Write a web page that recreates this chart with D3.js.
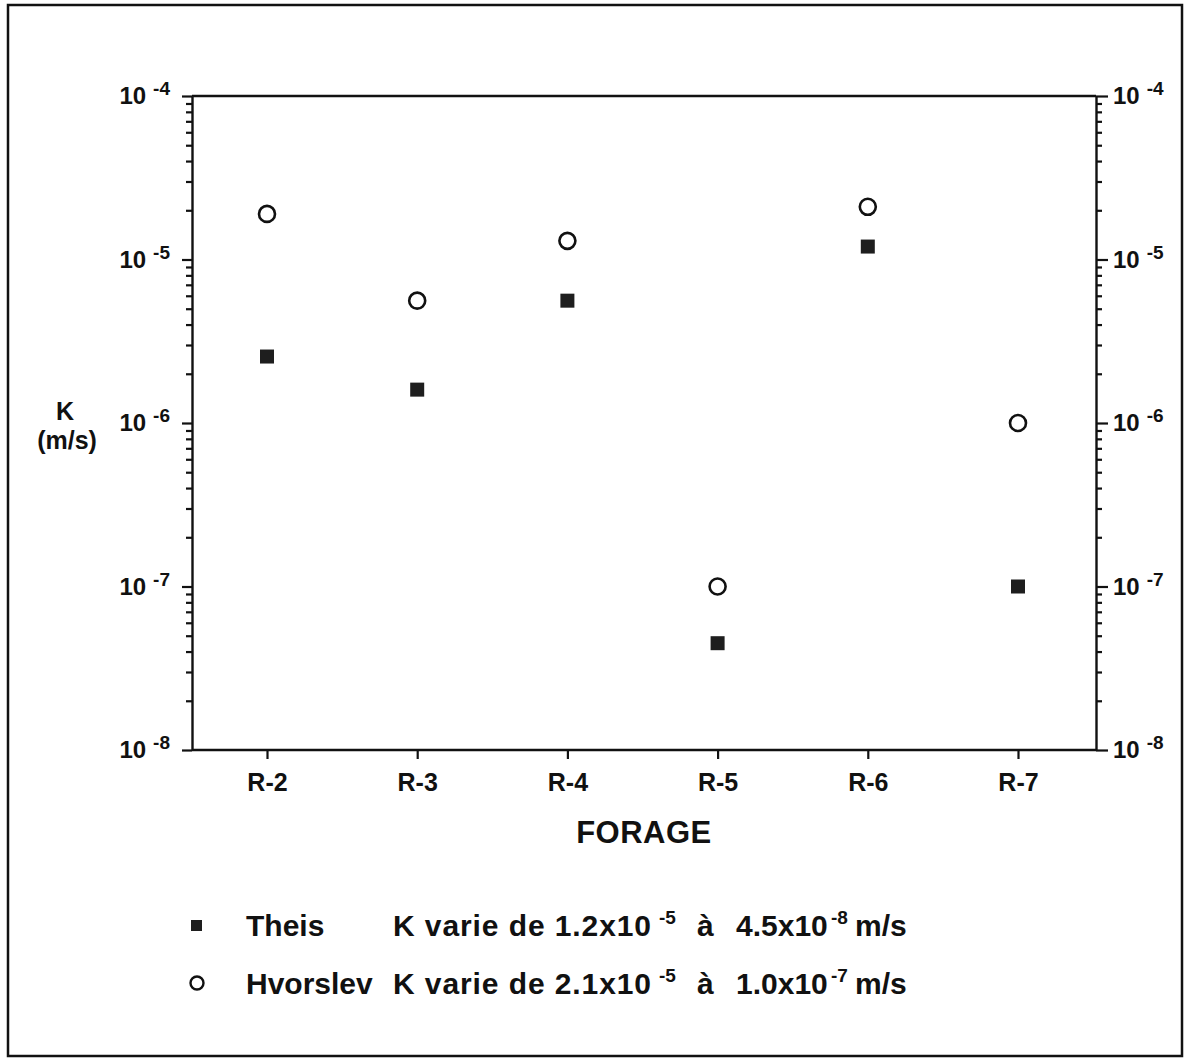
<!DOCTYPE html>
<html>
<head>
<meta charset="utf-8">
<script src="https://cdn.jsdelivr.net/npm/d3@7"></script>
<style>
  html, body { margin: 0; padding: 0; background: #fff; }
  svg text { font-family: "Liberation Sans", Arial, Helvetica, sans-serif; font-weight: bold; fill: #111; }
</style>
</head>
<body>
<svg id="chart" width="1191" height="1058"></svg>
<script>
// Boreholes and hydraulic conductivity K (m/s)
const categories = ["R-2", "R-3", "R-4", "R-5", "R-6", "R-7"];
const theis = [2.55e-6, 1.6e-6, 5.6e-6, 4.5e-8, 1.2e-5, 1.0e-7];
const hvorslev = [1.9e-5, 5.6e-6, 1.3e-5, 1.0e-7, 2.1e-5, 1.0e-6];
const decadeExponents = [-8, -7, -6, -5, -4];
const legendRows = [
  { name: "Theis", from: ["1.2x10", "-5"], to: ["4.5x10", "-8"] },
  { name: "Hvorslev", from: ["2.1x10", "-5"], to: ["1.0x10", "-7"] }
];

const svg = d3.select("#chart");
const plotLeft = 192, plotRight = 1096, plotTop = 96, plotBottom = 750;

// outer frame
svg.append("rect")
  .attr("x", 8).attr("y", 5).attr("width", 1174).attr("height", 1051)
  .attr("fill", "none").attr("stroke", "#111").attr("stroke-width", 2.5);

const y = d3.scaleLog().domain([1e-8, 1e-4]).range([plotBottom, plotTop]);
const x = d3.scalePoint().domain(categories).range([267, 1018]);

const majors = decadeExponents.map(e => Math.pow(10, e));
const minors = [];
for (let e = -8; e < -4; e++) for (let m = 2; m <= 9; m++) minors.push(m * Math.pow(10, e));

const axisStyle = g => {
  g.selectAll("path").attr("stroke", "#111").attr("stroke-width", 2.4);
  g.selectAll("line").attr("stroke", "#111").attr("stroke-width", 2.2);
};

function powerLabel(sel, anchor) {
  sel.each(function(d) {
    const t = d3.select(this);
    const e = Math.round(Math.log10(d));
    t.text(null).attr("text-anchor", anchor).attr("font-size", 24);
    t.append("tspan").text("10");
    t.append("tspan").attr("dx", 7).attr("dy", -9).attr("font-size", 19).text(String(e));
  });
}

// left axis: minor then major ticks
svg.append("g").attr("transform", `translate(${plotLeft},0)`)
  .call(d3.axisLeft(y).tickValues(minors).tickSize(6).tickSizeOuter(0).tickFormat(""))
  .call(axisStyle);
const gL = svg.append("g").attr("transform", `translate(${plotLeft},0)`)
  .call(d3.axisLeft(y).tickValues(majors).tickSize(10).tickSizeOuter(0).tickPadding(12))
  .call(axisStyle);
gL.select(".domain").remove();
gL.selectAll(".tick text").call(powerLabel, "end");

// right axis
svg.append("g").attr("transform", `translate(${plotRight},0)`)
  .call(d3.axisRight(y).tickValues(minors).tickSize(6).tickSizeOuter(0).tickFormat(""))
  .call(axisStyle);
const gR = svg.append("g").attr("transform", `translate(${plotRight},0)`)
  .call(d3.axisRight(y).tickValues(majors).tickSize(12).tickSizeOuter(0).tickPadding(5))
  .call(axisStyle);
gR.select(".domain").remove();
gR.selectAll(".tick text").call(powerLabel, "start");

// top and bottom frame lines of the plot
svg.append("line").attr("x1", plotLeft).attr("x2", plotRight).attr("y1", plotTop).attr("y2", plotTop)
  .attr("stroke", "#111").attr("stroke-width", 2.4);

const gB = svg.append("g").attr("transform", `translate(0,${plotBottom})`)
  .call(d3.axisBottom(x).tickSize(9).tickSizeOuter(0).tickPadding(14))
  .call(axisStyle);
gB.select(".domain").remove();
svg.append("line").attr("x1", plotLeft).attr("x2", plotRight).attr("y1", plotBottom).attr("y2", plotBottom)
  .attr("stroke", "#111").attr("stroke-width", 2.4);
gB.selectAll(".tick text").attr("font-size", 25).attr("dy", "0.71em");

// axis titles
svg.append("text").attr("x", (plotLeft + plotRight) / 2).attr("y", 843)
  .attr("text-anchor", "middle").attr("font-size", 31).attr("letter-spacing", 0.5).text("FORAGE");
svg.append("text").attr("x", 65).attr("y", 420)
  .attr("text-anchor", "middle").attr("font-size", 25).text("K");
svg.append("text").attr("x", 67).attr("y", 449)
  .attr("text-anchor", "middle").attr("font-size", 25).text("(m/s)");

// Theis points (filled squares)
const sq = 14;
svg.append("g").selectAll("rect").data(theis).join("rect")
  .attr("x", (d, i) => x(categories[i]) - sq / 2)
  .attr("y", d => y(d) - sq / 2)
  .attr("width", sq).attr("height", sq)
  .attr("fill", "#1e1e1e");

// Hvorslev points (open circles)
svg.append("g").selectAll("circle").data(hvorslev).join("circle")
  .attr("cx", (d, i) => x(categories[i]))
  .attr("cy", d => y(d))
  .attr("r", 8)
  .attr("fill", "none").attr("stroke", "#111").attr("stroke-width", 2.6);

// legend
const legend = svg.append("g");
const rowY = [936, 994];
legend.append("rect").attr("x", 191).attr("y", rowY[0] - 16).attr("width", 11).attr("height", 11).attr("fill", "#1e1e1e");
legend.append("circle").attr("cx", 197).attr("cy", rowY[1] - 11).attr("r", 6.5)
  .attr("fill", "none").attr("stroke", "#111").attr("stroke-width", 2.4);

const legendFont = 30, supFont = 19;
legendRows.forEach((r, i) => {
  const yy = rowY[i];
  legend.append("text").attr("x", 246).attr("y", yy).attr("font-size", legendFont).text(r.name);
  legend.append("text").attr("x", 393).attr("y", yy).attr("font-size", legendFont)
    .attr("textLength", 258).attr("lengthAdjust", "spacing").text("K varie de " + r.from[0]);
  legend.append("text").attr("x", 659).attr("y", yy - 12).attr("font-size", supFont).text(r.from[1]);
  legend.append("text").attr("x", 697).attr("y", yy).attr("font-size", legendFont).text("à");
  legend.append("text").attr("x", 736).attr("y", yy).attr("font-size", legendFont).text(r.to[0]);
  legend.append("text").attr("x", 831).attr("y", yy - 12).attr("font-size", supFont).text(r.to[1]);
  legend.append("text").attr("x", 855).attr("y", yy).attr("font-size", legendFont).text("m/s");
});
</script>
</body>
</html>
